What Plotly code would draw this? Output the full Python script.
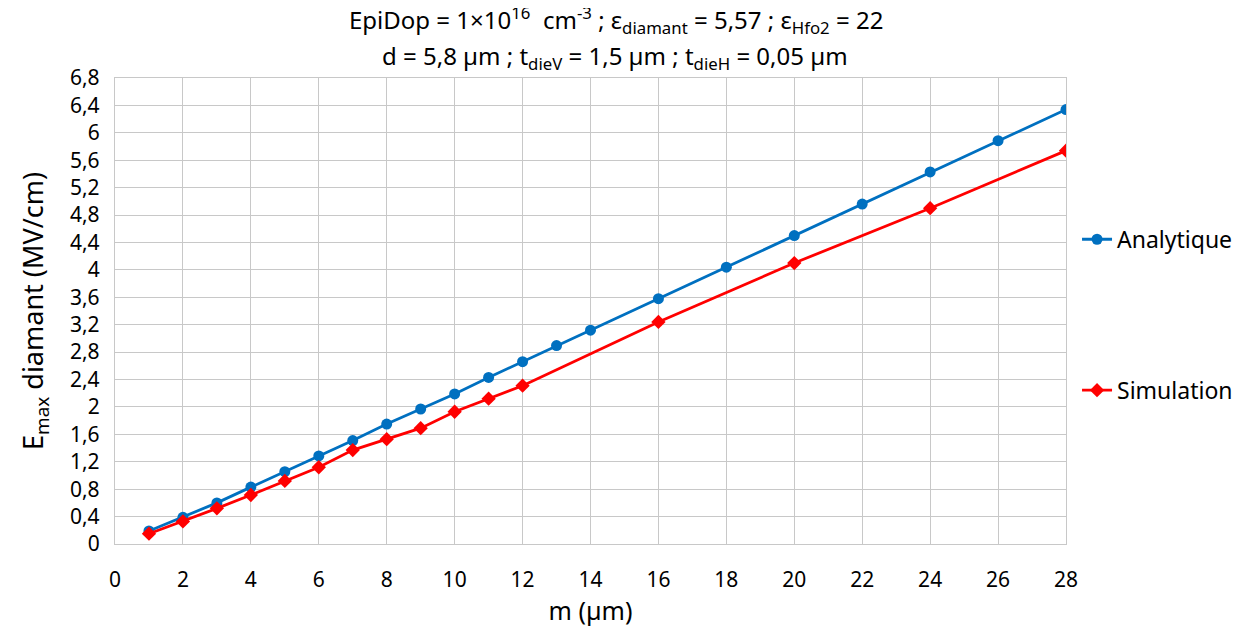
import plotly.graph_objects as go

m_analytique = [1, 2, 3, 4, 5, 6, 7, 8, 9, 10, 11, 12, 13, 14, 16, 18, 20, 22, 24, 26, 28]
e_analytique = [0.19, 0.39, 0.60, 0.83, 1.055, 1.285, 1.51, 1.75, 1.97, 2.19, 2.43, 2.66,
                2.895, 3.12, 3.58, 4.04, 4.50, 4.96, 5.43, 5.885, 6.34]

m_simulation = [1, 2, 3, 4, 5, 6, 7, 8, 9, 10, 11, 12, 16, 20, 24, 28]
e_simulation = [0.15, 0.33, 0.52, 0.715, 0.92, 1.12, 1.37, 1.53, 1.69, 1.93, 2.12, 2.31,
                3.24, 4.10, 4.90, 5.74]

x_ticks = list(range(0, 29, 2))

title_line1 = ("EpiDop = 1×10<sup>16</sup>  cm<sup>-3</sup> ; ε<sub>diamant</sub> = 5,57 ; "
               "ε<sub>Hfo2</sub> = 22")
title_line2 = "d = 5,8 µm ; t<sub>dieV</sub> = 1,5 µm ; t<sub>dieH</sub> = 0,05 µm"

FONT = "Noto Sans"
GRID = "#C8C8C8"

fig = go.Figure()
fig.add_trace(go.Scatter(
    x=m_analytique, y=e_analytique, name="Analytique", mode="lines+markers",
    line=dict(color="#0070C0", width=2.8),
    marker=dict(symbol="circle", size=11, color="#0070C0"),
    legendgroup="a",
))
fig.add_trace(go.Scatter(
    x=m_simulation, y=e_simulation, name="Simulation", mode="lines+markers",
    line=dict(color="#FF0000", width=2.8),
    marker=dict(symbol="diamond", size=11, color="#FF0000"),
    legendgroup="s",
))

fig.add_annotation(text=title_line1, xref="paper", yref="paper", x=0.527, y=1.1245,
                   xanchor="center", yanchor="middle", showarrow=False,
                   font=dict(family=FONT, size=24, color="#000000"))
fig.add_annotation(text=title_line2, xref="paper", yref="paper", x=0.526, y=1.045,
                   xanchor="center", yanchor="middle", showarrow=False,
                   font=dict(family=FONT, size=24, color="#000000"))

fig.update_layout(
    width=1246, height=636,
    paper_bgcolor="white", plot_bgcolor="white",
    margin=dict(l=107, r=188, t=70, b=100),
    separators=",.",
    font=dict(family=FONT, color="#000000", size=21),
    xaxis=dict(range=[0, 28], tickvals=x_ticks, showgrid=True, gridcolor=GRID, gridwidth=1.3,
               showline=True, linecolor=GRID, linewidth=1.3, mirror=True, zeroline=False,
               ticks="", tickfont=dict(size=21), ticklabelstandoff=17, automargin=False,
               title=dict(text="m (µm)", font=dict(size=25), standoff=1)),
    yaxis=dict(range=[0, 6.8], dtick=0.4, tick0=0, showgrid=True, gridcolor=GRID, gridwidth=1.3,
               showline=True, linecolor=GRID, linewidth=1.3, mirror=True, zeroline=False,
               ticks="", tickfont=dict(size=21), ticklabelstandoff=10, automargin=False,
               title=dict(text="E<sub>max</sub> diamant (MV/cm)", font=dict(size=27), standoff=18)),
    legend=dict(x=1.0116, xanchor="left", y=0.70, yanchor="top", traceorder="grouped",
                tracegroupgap=118, font=dict(size=23), bgcolor="rgba(0,0,0,0)",
                itemwidth=30),
    showlegend=True,
)

fig.write_html("out.html")
